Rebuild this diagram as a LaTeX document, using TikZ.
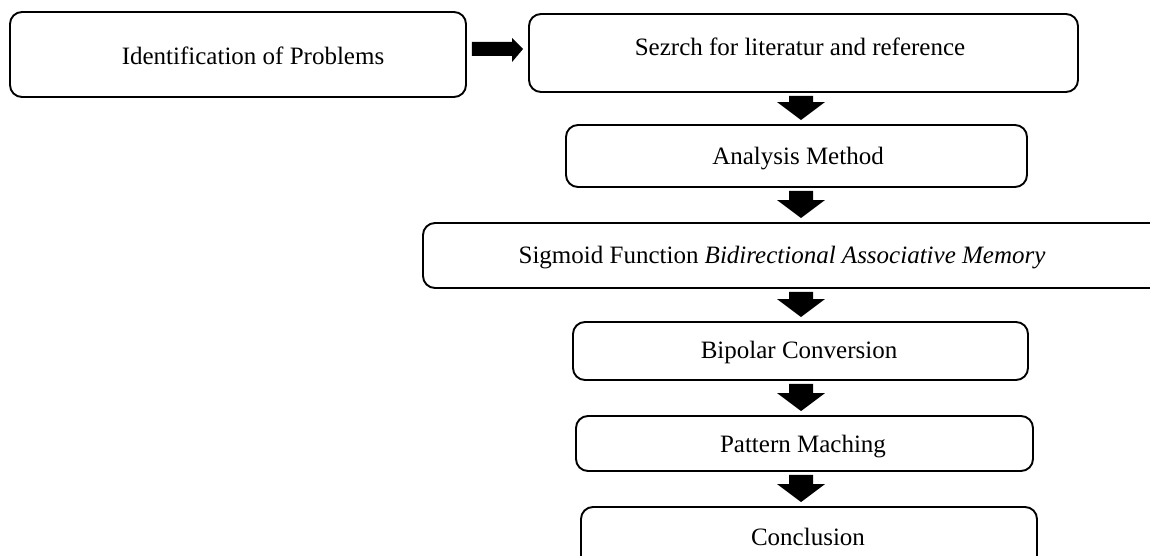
\documentclass[tikz,border=0pt]{standalone}
\usepackage{fontspec}
\setmainfont{Liberation Serif}
\usetikzlibrary{calc}
\begin{document}
\begin{tikzpicture}[x=1pt,y=-1pt,
  box/.style={draw, line width=1.9pt, rounded corners=12pt, inner sep=0pt},
  lbl/.style={font=\fontsize{25}{30}\selectfont, inner sep=0pt, anchor=base},
  blk/.style={fill=black}]
\useasboundingbox (0,0) rectangle (1150,556);
\clip (0,0) rectangle (1150,556);
% boxes
\node[box, minimum width=456pt, minimum height=85pt] (b1) at (238,54.5) {};
\node[box, minimum width=549pt, minimum height=78pt] (b2) at (803.5,53) {};
\node[box, minimum width=461pt, minimum height=62pt] (b3) at (796.5,156) {};
\node[box, minimum width=747pt, minimum height=65pt] (b4) at (796.5,255.5) {};
\node[box, minimum width=455pt, minimum height=58pt] (b5) at (800.5,351) {};
\node[box, minimum width=457pt, minimum height=55pt] (b6) at (804.5,443.5) {};
\node[box, minimum width=456pt, minimum height=93pt] (b7) at (809,553.5) {};
% labels
\node[lbl] (t1) at (253,65) {Identification of Problems};
\node[lbl] (t2) at (800,56) {Sezrch for literatur and reference};
\node[lbl] (t3) at (798,165) {Analysis Method};
\node[lbl] (t4) at (782,263) {Sigmoid Function \textit{Bidirectional Associative Memory}};
\node[lbl] (t5) at (799,358) {Bipolar Conversion};
\node[lbl] (t6) at (803,452) {Pattern Maching};
\node[lbl] (t7) at (808,545) {Conclusion};
% horizontal block arrow
\coordinate (ay) at (0,49);
\fill[blk] let \p1=(b1.east |- ay), \p2=(b2.west |- ay) in
  (\x1+5pt,\y1+7pt) -- (\x2-16pt,\y1+7pt) -- (\x2-16pt,\y1+11pt) -- (\x2-5pt,\y1)
  -- (\x2-16pt,\y1-13pt) -- (\x2-16pt,\y1-7pt) -- (\x1+5pt,\y1-7pt) -- cycle;
% vertical block arrows
\coordinate (ax) at (801,0);
\foreach \a/\b in {b2/b3,b3/b4,b4/b5,b5/b6,b6/b7}{
  \fill[blk] let \p1=(ax |- \a.south), \p2=(ax |- \b.north) in
    (\x1-12pt,\y1-3pt) -- (\x1+12pt,\y1-3pt) -- (\x1+12pt,\y2+22pt) -- (\x1+24pt,\y2+22pt)
    -- (\x1,\y2+4pt) -- (\x1-24pt,\y2+22pt) -- (\x1-12pt,\y2+22pt) -- cycle;
}
\end{tikzpicture}
\end{document}
